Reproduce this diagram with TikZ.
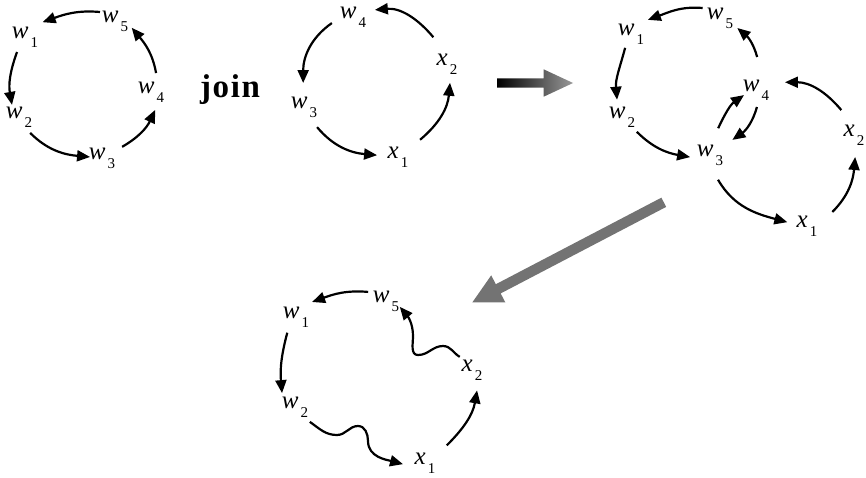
\documentclass[tikz,border=0pt]{standalone}
\usepackage{fontspec}
\setmainfont{Liberation Serif}
\newfontfamily\joinfont{Liberation Serif}[LetterSpace=5]
\usetikzlibrary{arrows.meta,shapes.arrows}
\newcommand\lb[2]{{\fontsize{25}{25}\selectfont\itshape #1}\hspace{2pt}\raisebox{-9pt}{\fontsize{15}{15}\selectfont #2}}
\tikzset{
  lbl/.style={circle, minimum size=36pt, inner sep=0pt},
  cyc/.style={line width=2.2pt, -{Triangle[length=13pt,width=11pt]}},
  bigarrow/.style={single arrow, draw=none, minimum height=#1, inner sep=4.5pt,
    single arrow head extend=9pt, single arrow tip angle=50},
}
\begin{document}
\begin{tikzpicture}[x=1pt,y=1pt]
\useasboundingbox (0,0) rectangle (866,-477);
% ---------- cycle 1 ----------
\node[lbl] (a1) at (25,-37) {\lb{w}{1}};
\node[lbl] (a5) at (115,-21) {\lb{w}{5}};
\node[lbl] (a4) at (151,-92) {\lb{w}{4}};
\node[lbl] (a3) at (102,-158) {\lb{w}{3}};
\node[lbl] (a2) at (19,-117) {\lb{w}{2}};
\draw[cyc] ([shift={(149:17.5)}]a5.center) to[out=175,in=20] ([shift={(40:23)}]a1.center);
\draw[cyc] ([shift={(75:19.6)}]a4.center) to[out=100,in=-50] ([shift={(-22:18)}]a5.center);
\draw[cyc] ([shift={(-118:17)}]a1.center) to[out=-110,in=100] ([shift={(120:14)}]a2.center);
\draw[cyc] ([shift={(-55:19.4)}]a2.center) to[out=-45,in=175] ([shift={(175:12)}]a3.center);
\draw[cyc] ([shift={(29:23)}]a3.center) to[out=30,in=-115] ([shift={(-77:18.4)}]a4.center);
% ---------- join ----------
\node[anchor=base, inner sep=0pt] (join) at (230,-97) {\fontsize{33}{33}\selectfont\joinfont\bfseries join};
% ---------- cycle 2 ----------
\node[lbl] (b4) at (353,-17) {\lb{w}{4}};
\node[lbl] (b3) at (304,-107) {\lb{w}{3}};
\node[lbl] (b1) at (398,-157) {\lb{x}{1}};
\node[lbl] (b2) at (447,-64) {\lb{x}{2}};
\draw[cyc] ([shift={(117:30)}]b2.center) to[out=130,in=5] ([shift={(18:23)}]b4.center);
\draw[cyc] ([shift={(196:22)}]b4.center) to[out=-145,in=90] ([shift={(92:24)}]b3.center);
\draw[cyc] ([shift={(-57:24)}]b3.center) to[out=-50,in=175] ([shift={(175:21)}]b1.center);
\draw[cyc] ([shift={(38:28)}]b1.center) to[out=40,in=-95] ([shift={(-81:19)}]b2.center);
% ---------- big arrows ----------
\node[bigarrow=76pt, left color=black, right color=black!40] (g1) at (530,-83) {};
\node[bigarrow=216pt, inner sep=5pt, single arrow head extend=10pt, single arrow tip angle=55,
      fill=black!55, rotate=207.6] (g2) at (572.5,-250) {};
% ---------- cycle 3 ----------
\node[lbl] (c1) at (631,-34) {\lb{w}{1}};
\node[lbl] (c5) at (720,-18) {\lb{w}{5}};
\node[lbl] (c2) at (622,-117) {\lb{w}{2}};
\node[lbl] (c4) at (756,-90) {\lb{w}{4}};
\node[lbl] (c3) at (710,-155) {\lb{w}{3}};
\node[lbl] (cx2) at (854,-135) {\lb{x}{2}};
\node[lbl] (cx1) at (807,-226) {\lb{x}{1}};
\draw[cyc] ([shift={(150:20)}]c5.center) to[out=175,in=20] ([shift={(40:22)}]c1.center);
\draw[cyc] ([shift={(88:33)}]c4.center) to[out=105,in=-40] ([shift={(-30:20)}]c5.center);
\draw[cyc] ([shift={(-113:15)}]c1.center) to[out=-105,in=95] ([shift={(106:18)}]c2.center);
\draw[cyc] ([shift={(-45:21)}]c2.center) to[out=-45,in=170] ([shift={(186:20)}]c3.center);
\draw[cyc] ([shift={(73:28)}]c3.center) to[out=65,in=215] ([shift={(203:13)}]c4.center);
\draw[cyc] ([shift={(-87:17)}]c4.center) to[out=-105,in=35] ([shift={(34:27)}]c3.center);
\draw[cyc] ([shift={(117:28)}]cx2.center) to[out=130,in=0] ([shift={(15:30)}]c4.center);
\draw[cyc] ([shift={(-72:26)}]c3.center) to[out=-60,in=165] ([shift={(169:20)}]cx1.center);
\draw[cyc] ([shift={(29:29)}]cx1.center) to[out=45,in=-95] ([shift={(-87:22)}]cx2.center);
% ---------- cycle 4 ----------
\node[lbl] (d1) at (296,-317) {\lb{w}{1}};
\node[lbl] (d5) at (386,-301) {\lb{w}{5}};
\node[lbl] (d2) at (295,-407) {\lb{w}{2}};
\node[lbl] (dx2) at (472,-370) {\lb{x}{2}};
\node[lbl] (dx1) at (425,-463) {\lb{x}{1}};
\draw[cyc] ([shift={(153:20)}]d5.center) to[out=175,in=20] ([shift={(43:22)}]d1.center);
\draw[cyc] ([shift={(133:18)}]dx2.center) to[out=150,in=0] (443,-346)
   to[out=180,in=0] (418,-355) to[out=180,in=-90] (413,-336)
   to[out=90,in=-50] ([shift={(-23:15)}]d5.center);
\draw[cyc] ([shift={(-119:18)}]d1.center) to[out=-105,in=95] ([shift={(133:19)}]d2.center);
\draw[cyc] ([shift={(-45:21)}]d2.center) to[out=-35,in=180] (337,-435)
   to[out=0,in=180] (358,-426) to[out=0,in=90] (368,-441)
   to[out=-90,in=165] ([shift={(183:22)}]dx1.center);
\draw[cyc] ([shift={(39:28)}]dx1.center) to[out=45,in=-100] ([shift={(-76:21)}]dx2.center);
\end{tikzpicture}
\end{document}
